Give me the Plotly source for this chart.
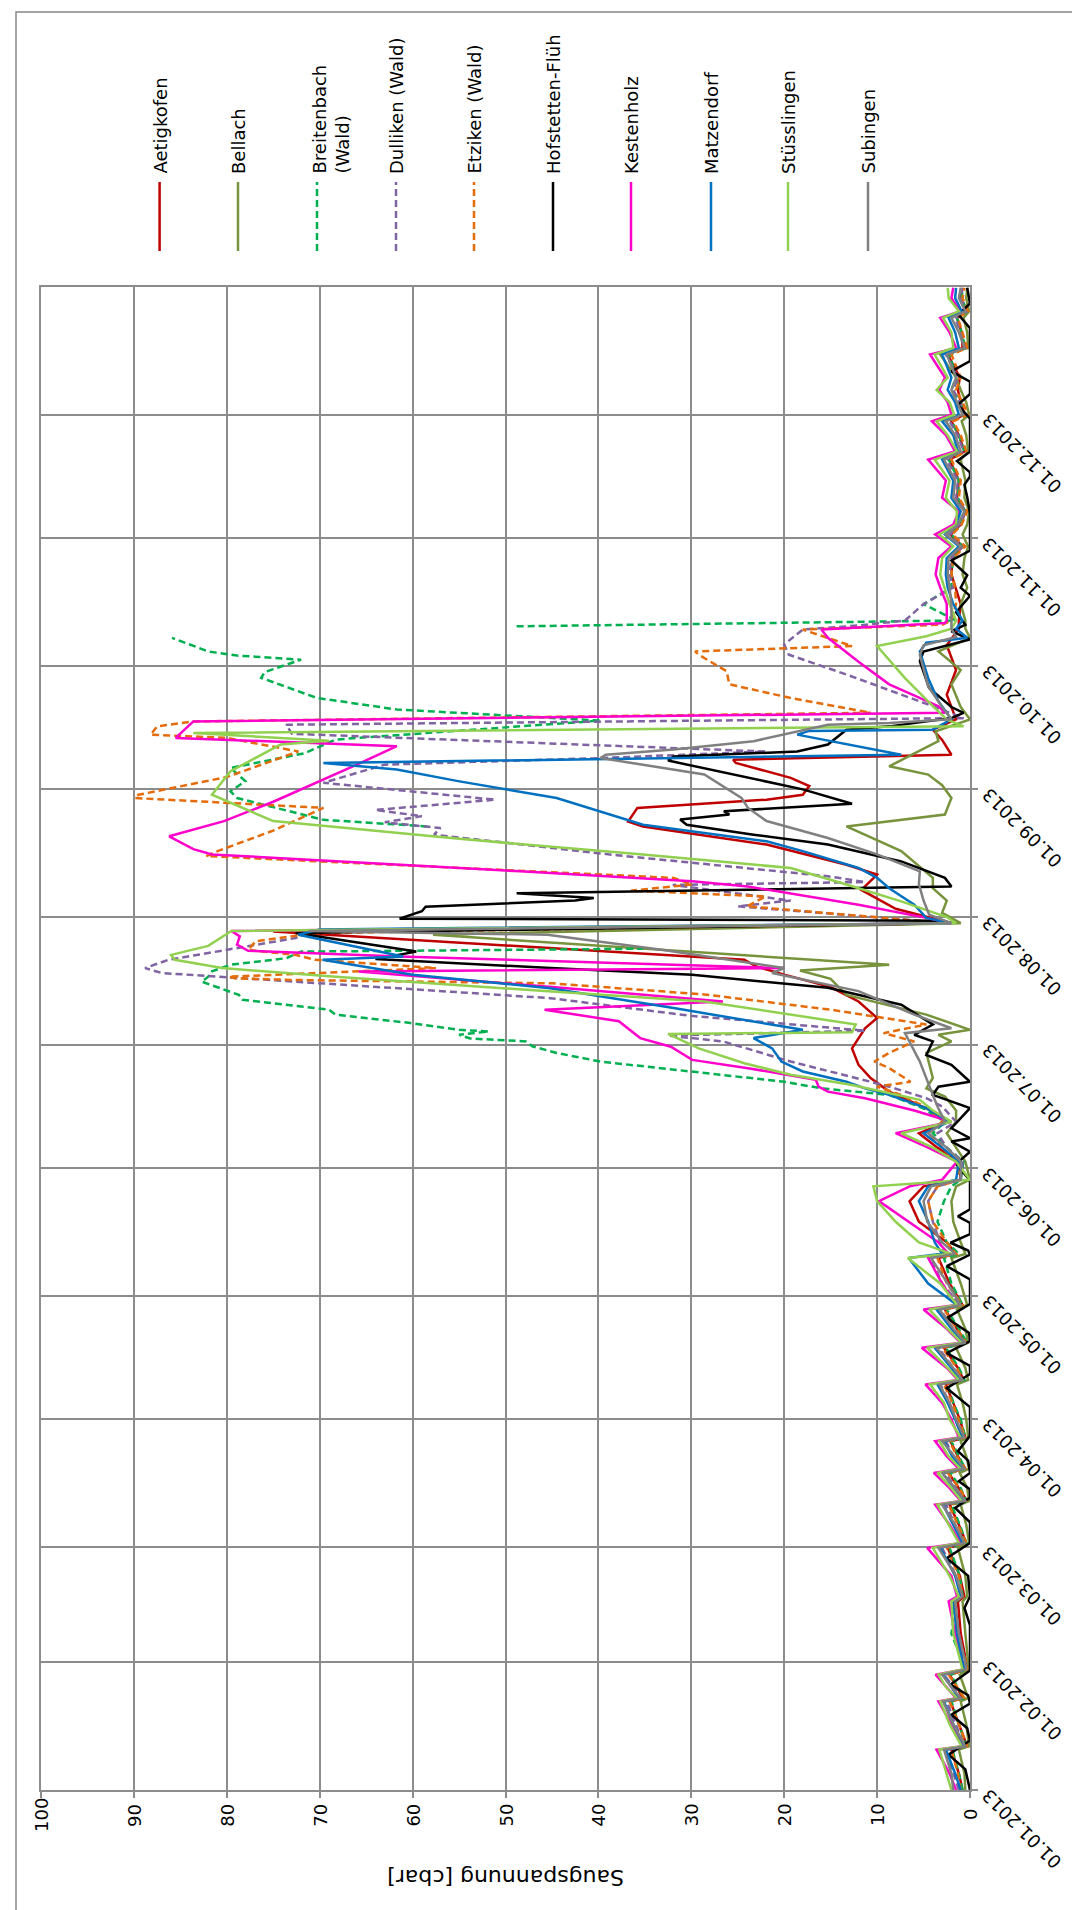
import pandas as pd
import plotly.graph_objects as go

# ---------------- Daten ----------------
wert_ticks = [0, 10, 20, 30, 40, 50, 60, 70, 80, 90, 100]
monats_ticks = ["2013-01-01", "2013-02-01", "2013-03-01", "2013-04-01", "2013-05-01", "2013-06-01",
                "2013-07-01", "2013-08-01", "2013-09-01", "2013-10-01", "2013-11-01", "2013-12-01"]
monats_labels = ["01.01.2013", "01.02.2013", "01.03.2013", "01.04.2013", "01.05.2013", "01.06.2013",
                 "01.07.2013", "01.08.2013", "01.09.2013", "01.10.2013", "01.11.2013", "01.12.2013"]

# Tag im Jahr (0 = 01.01.2013)
tage_jan_jun = [0, 4, 9.8, 10.6, 16, 21.5, 22.3, 25, 28, 29.3, 31, 38, 45.8, 47, 52, 58.8, 60, 64.4,
                69.3, 70.2, 73.3, 77, 78, 81, 84.7, 85.6, 90, 94, 98.5, 99.6, 102.5, 107.4, 108.6, 112,
                116.7, 117.8, 123, 129.2, 130.2, 133, 138, 143, 146.6, 148.2, 152.6, 156, 159.5, 162.3]
tage_okt_dez = [284, 288, 292, 295.2, 299.2, 302, 304.9, 307.3, 310.5, 313.8, 318, 323.1, 325.1, 329,
                332.4, 334, 337, 340, 343, 348.6, 350.2, 354, 357.5, 359.1, 362.3, 364.8]

# Aetigkofen
aetigkofen_jan_jun = [0.8, 1.2, 2.0, 0.3, 1.2, 2.1, 0.8, 1.4, 2.2, 0.3, 0.4, 1.0, 1.3, 0.6, 1.1, 2.4, 0.4, 1.2,
                      2.2, 0.3, 1.2, 2.3, 0.5, 1.3, 2.1, 0.5, 1.1, 1.8, 2.6, 0.7, 1.3, 2.8, 0.4, 1.4, 2.7, 0.8,
                      2.2, 3.4, 1.5, 2.5, 5.5, 6.5, 5.0, 1.0, 1.2, 3.5, 5.5, 2.5]
aetigkofen_sommer_tag = [164.8, 169.6, 172.9, 176.1, 180.1, 185, 187.5, 191.5, 195, 198, 200, 201.6, 204.4,
                         208.5, 210.5, 214, 218.6, 222.3, 224.7, 229.6, 234, 235.2, 238.5, 240.5, 241.7,
                         243.8, 245.8, 249.4, 250.2, 250.6, 251.4, 255, 257.5, 260, 266, 272, 278, 282]
aetigkofen_sommer_wert = [4, 8.7, 10.7, 12, 12.7, 11.3, 10, 12, 15, 20, 23, 24.3, 45.2, 75, 2, 8, 11.7, 10,
                          13.3, 21.9, 35.2, 36.8, 35.8, 21.9, 18, 17.3, 19.3, 25.2, 25.5, 18.6, 2, 3, 4, 1.5,
                          2.5, 1.5, 2.5, 1.2]
aetigkofen_okt_dez = [1.2, 1.0, 1.6, 2.0, 1.9, 0.8, 2.1, 1.0, 0.5, 1.4, 1.2, 2.2, 0.6, 1.2, 2.0, 0.6, 1.0, 1.3,
                      1.1, 2.4, 0.8, 0.9, 1.4, 0.4, 1.0, 0.9]

# Bellach
bellach_jan_jun = [0.5, 0.6, 1.2, 0.1, 0.4, 1.0, 0.2, 0.6, 1.1, 0.1, 0.2, 0.5, 0.8, 0.3, 0.5, 1.3, 0.1, 0.4,
                   1.0, 0.1, 0.3, 1.1, 0.1, 0.4, 1.0, 0.2, 0.4, 0.8, 1.4, 0.2, 0.5, 1.5, 0.2, 0.5, 1.4, 0.3,
                   1.0, 2.0, 0.5, 1.0, 1.8, 2.0, 1.5, 0.0, 0.5, 1.5, 2.5, 1.5]
bellach_sommer_tag = [165, 168.4, 170.4, 172.9, 179, 181.8, 183.4, 184.6, 188.3, 193.1, 197, 199, 200.4, 207.7,
                      210.5, 213, 216, 219, 221.5, 228, 234, 236.9, 240.9, 244, 246.6, 248.6, 254.7, 257.1,
                      260, 263, 268.5, 272, 276.5, 279.8, 282]
bellach_sommer_wert = [1.5, 2.7, 4.7, 4, 4.7, 2, 3.4, 0, 4.7, 13.3, 15, 18.3, 8.7, 57.8, 1, 3, 2.5, 4, 4, 7.4,
                       13.3, 2.7, 2, 3, 4.5, 8.7, 3.4, 3.7, 0, 1, 2, 1, 3.4, 0, 0.5]
bellach_okt_dez = [0.5, 1.0, 0.3, 0.8, 0.6, 0.2, 0.8, 0.3, 0.1, 0.6, 0.5, 1.0, 0.2, 0.4, 0.9, 0.1, 0.4, 1.0,
                   1.5, 3.2, 0.2, 0.3, 0.7, 0.1, 0.4, 0.3]

# Breitenbach (Wald)
breitenbach_jan_jun = [0.8, 1.2, 1.9, 0.4, 1.2, 2.0, 0.6, 1.3, 2.1, 0.3, 0.8, 2.0, 1.5, 0.8, 1.1, 2.2, 0.4, 1.1,
                       2.0, 0.4, 1.0, 2.1, 0.5, 1.2, 2.0, 0.5, 1.0, 1.8, 2.4, 0.6, 1.2, 2.6, 0.3, 1.2, 2.5, 0.8,
                       2.0, 2.8, 1.2, 2.5, 3.5, 2.8, 2.0, 1.0, 0.7, 2.5, 4.0, 2.7]
breitenbach_sommer_tag = [165.5, 168.8, 170.4, 172, 174.1, 175.7, 176.9, 179, 180.6, 181.8, 182.5, 183.4, 184.2,
                          184.6, 186.3, 188.3, 189.5, 191.9, 193.1, 196.3, 197.5, 198.8, 200.4, 202, 203.6,
                          204.3, 219, 234, 235.6, 240.9, 242.5, 245, 248.2, 251.8, 255.1, 259.7, 262.4, 265.2,
                          270.1, 271.5, 274.5, 275.5, 276.5, 279.8, 281, 282.6]
breitenbach_sommer_wert = [5, 8.7, 16, 20, 28.6, 35.2, 39.8, 44.5, 47.1, 47.8, 53.8, 55, 51.8, 55, 60.4, 68.3,
                           69, 78.3, 78.7, 82.7, 82, 81.6, 79.6, 73.6, 72, 35.2, None, 58.4, 69.6, 78.9, 79.6,
                           78, 79.6, 71.6, 68.3, 39.8, 61.7, 70.3, 76.3, 75.9, 72, 78.9, 82, 85.9, None, 48.8]
breitenbach_okt_dez = [1.5, 5.0, 2.0, 2.0, 1.8, 0.8, 2.0, 1.0, 0.5, 1.3, 1.2, 2.3, 0.6, 1.2, 2.0, 0.6, 1.0, 2.0,
                       1.5, 2.2, 0.5, 0.9, 1.4, 0.3, 0.9, 0.8]

# Dulliken (Wald)
dulliken_jan_jun = [1.2, 1.8, 2.6, 0.6, 1.5, 2.5, 1.0, 1.8, 2.8, 0.5, 0.6, 1.2, 1.7, 1.0, 1.5, 3.0, 0.8, 1.6,
                    2.6, 0.7, 1.5, 2.7, 0.8, 1.8, 2.6, 0.8, 1.6, 2.2, 3.2, 0.9, 1.8, 3.4, 0.7, 1.8, 3.2, 1.1,
                    3.0, 4.2, 2.8, 3.2, 4.0, 4.5, 3.5, 1.0, 0.8, 2.5, 3.5, 1.5]
dulliken_sommer_tag = [166, 168, 170.8, 172, 176.9, 181.8, 183.2, 184.4, 188, 192.3, 196, 198.4, 199.6, 201.6,
                       206.9, 208.5, 210.5, 214.6, 216, 219.8, 220.5, 221.9, 227, 232, 233.6, 235, 236.5, 238,
                       240.5, 244.6, 249, 250.6, 252.2, 256.5, 258.7, 260.3, 263.2, 266, 270.9, 275.7, 278.2,
                       281.8, 282.8]
dulliken_sommer_wert = [3, 4.7, 8.7, 10.7, 19.3, 26.6, 32.5, 11.3, 30, 45.2, 70, 87, 88.8, 86.3, 72.6, 70.8, 2,
                        25, 19.3, 32, 11.3, 15.3, 38, 57.7, 57, 63, 59, 64, 51.1, 69.6, 63, 39.8, 22, 73, 73.6,
                        0.7, 4, 7.4, 13.3, 19.5, 20, 18, 12]
dulliken_okt_dez = [7.0, 5.0, 1.8, 2.2, 2.0, 0.8, 2.2, 1.1, 0.5, 1.5, 1.3, 2.5, 0.7, 1.3, 2.2, 0.6, 1.1, 1.8,
                    1.3, 2.6, 0.5, 1.0, 1.6, 0.3, 1.0, 0.8]

# Etziken (Wald)
etziken_jan_jun = [1.0, 1.3, 2.0, 0.3, 1.2, 2.2, 0.6, 1.4, 2.3, 0.3, 0.4, 1.5, 1.6, 0.8, 1.2, 2.5, 0.4, 1.3,
                   2.3, 0.4, 1.1, 2.4, 0.5, 1.4, 2.2, 0.5, 1.2, 1.9, 2.8, 0.8, 1.4, 3.0, 0.4, 1.4, 2.8, 0.8,
                   2.5, 3.5, 1.5, 2.5, 4.0, 4.5, 3.5, 1.0, 1.5, 3.0, 4.5, 3.0]
etziken_sommer_tag = [165.5, 168.8, 170.8, 172, 175.3, 176.9, 179, 181.8, 183.8, 185.9, 189.5, 193.2, 195.9,
                      196.7, 197.1, 197.5, 199.6, 201.6, 202.8, 204, 206.1, 208.1, 210.5, 214.6, 217, 218.4,
                      219.9, 221.5, 226.8, 228, 233, 238.5, 240.9, 241.7, 246, 252.2, 255.5, 256.3, 258.3,
                      259.5, 261.6, 265.2, 268.5, 271.7, 275.7, 276.5, 277.8, 281.8, 283]
etziken_sommer_wert = [4.5, 7.4, 10, 6.4, 8.7, 10.3, 8.7, 6, 9.3, 4.7, 15, 28.6, 45, 72.6, 79, 79.8, 57.5, 70.5,
                       72.6, 77.7, 76.9, 70.5, 2.5, 24, 22, 36.5, 29.9, 31.9, 82.2, 81, 75, 69.6, 89.9, 89.5,
                       80, 72.3, 80, 88.2, 87.5, 83.6, 10.7, 19.3, 25.9, 26.2, 29.2, 29.6, 12.7, 18, 3]
etziken_okt_dez = [2.0, 1.5, 1.6, 2.0, 1.8, 0.5, 1.9, 0.9, 0.3, 1.2, 1.0, 2.0, 0.4, 1.0, 1.8, 0.2, 0.8, 1.5,
                   1.0, 2.0, 0.3, 0.8, 1.3, 0.2, 0.8, 0.6]

# Hofstetten-Flüh (eigene Stützstellen)
hofstetten_jan_jun_tag = [0, 5, 8.6, 12, 15, 18.3, 21, 23, 25.6, 29, 40, 44.2, 47, 52, 56.3, 60, 65, 68.5, 71,
                          73, 75, 77, 80, 82.3, 86, 93, 97.6, 101, 103, 106.1, 109, 111, 114.6, 118, 124,
                          127.2, 130, 131, 132.9, 135, 137.7, 139.3, 141, 148, 152, 155, 157.5, 158.3, 160.7]
hofstetten_jan_jun = [0, 0.5, 2.3, 0, 0.3, 2.0, 0, 0.2, 2.1, 0, 0, 0.6, 0, 0.2, 2.5, 0, 0, 1.6, 0, 0, 1.2, 0,
                      0.2, 1.3, 0, 0, 2.5, 0, 0, 2.5, 0, 0.1, 2.5, 0, 0, 2.5, 0, 0.2, 2.1, 0, 0, 1.3, 0, 0,
                      1.5, 0, 2.0, 0, 2.0]
hofstetten_sommer_tag = [165.6, 168.8, 170.8, 172, 176.1, 178.5, 181.8, 183.4, 185.9, 190.7, 194.8, 198, 199.6,
                         201.8, 203.6, 208.1, 210.5, 211.1, 211.6, 213.4, 214.5, 216, 216.6, 217.8, 219.4,
                         221.5, 225.5, 229.6, 232, 234.4, 235.7, 236.9, 237.7, 239.5, 243, 250, 251, 252.2,
                         253.9, 257.5, 258.3, 260.3, 261.6, 263, 267.6, 274.1, 276.5, 279.4, 281.4]
hofstetten_sommer_wert = [0, 4, 3.4, 0, 2, 4.7, 4, 6, 4, 7.4, 15.3, 29.9, 45.1, 64, 59.6, 72.6, 2, 3, 61.4, 59,
                          58.6, 42.5, 40.5, 48.8, 2, 2.7, 7.4, 15.3, 23.3, 30.5, 31.2, 25.9, 26.5, 12.7, 18,
                          32.5, 31.9, 18.6, 15.3, 13.3, 8.7, 2, 0.7, 2, 4.4, 5.4, 5, 0, 2]
hofstetten_okt_dez_tag = [283, 286, 290, 292, 295, 298.6, 301, 310, 314, 317, 319, 320, 322.7, 325, 333, 336.4,
                          339, 342, 344.5, 347, 355, 358.3, 361, 364.8]
hofstetten_okt_dez = [0.5, 1.5, 0, 1.0, 0.3, 2.0, 0, 0, 0.3, 0.6, 0, 0, 1.4, 0, 0, 1.3, 0, 0, 2.0, 0, 0, 1.25,
                      0, 0.3]

# Kestenholz
kestenholz_jan_jun = [1.5, 2.2, 3.6, 0.8, 2.0, 3.4, 1.5, 2.5, 3.7, 0.6, 0.8, 1.6, 2.3, 1.4, 2.0, 4.6, 1.0, 2.2,
                      3.75, 1.0, 2.2, 3.9, 1.2, 2.5, 3.75, 1.2, 2.0, 3.0, 4.8, 1.3, 2.5, 5.2, 1.0, 2.5, 5.0,
                      1.5, 3.0, 4.5, 2.3, 3.4, 6.6, 9.8, 6.5, 3.0, 1.4, 4.5, 8.0, 2.0]
kestenholz_sommer_tag = [165, 168, 169.6, 170.8, 172.5, 175.3, 177.3, 180.5, 182.6, 185, 186.7, 189.5, 191.5,
                         195, 198.8, 199.6, 202.4, 203.8, 205.3, 207.3, 208.6, 210.5, 211.8, 215, 219.4, 220.7,
                         223.1, 227.2, 228.5, 231.6, 235.3, 240, 245.4, 249, 253.5, 255.5, 259.5, 261.6, 263.2,
                         268.5, 274, 279.8, 281.8, 283.4]
kestenholz_sommer_wert = [6, 11.3, 15.3, 16.3, 16.6, 23.9, 29.9, 32.2, 35.5, 36.8, 37.8, 45.8, 26.6, 45, 65.8,
                          20, 61.4, 77.7, 78.9, 78.6, 79.5, 2, 4.7, 12, 23.9, 29.9, 48.4, 81.6, 83.6, 86.2,
                          80.3, 75, 69.6, 66, 61.7, 85.5, 83.6, 2.7, 3.4, 8.7, 12, 15.3, 16, 2.7]
kestenholz_okt_dez = [2.5, 2.5, 3.2, 3.7, 3.4, 2.0, 3.75, 1.8, 1.2, 3.0, 2.6, 4.5, 1.6, 2.6, 4.1, 2.0, 2.4, 3.3,
                      2.7, 4.3, 1.5, 2.2, 3.2, 1.0, 2.0, 1.8]

# Matzendorf
matzendorf_jan_jun = [1.0, 1.6, 2.6, 0.6, 1.8, 2.8, 1.2, 2.0, 2.9, 0.6, 0.8, 1.4, 1.8, 1.0, 1.6, 3.2, 0.8, 1.8,
                      2.9, 0.6, 1.7, 3.0, 0.8, 1.9, 2.8, 0.8, 1.6, 2.4, 3.5, 1.0, 2.0, 3.8, 0.6, 2.0, 3.6, 1.4,
                      4.5, 6.6, 3.0, 3.8, 4.5, 5.5, 4.5, 1.5, 1.2, 3.0, 5.0, 2.2]
matzendorf_sommer_tag = [165.6, 168.8, 170.4, 172, 174.5, 176.9, 180.1, 182.6, 184.6, 189.9, 194.7, 198, 201.6,
                         202.4, 207.7, 209, 210.5, 211.8, 215, 219, 221.5, 223.9, 228, 230.4, 234.4, 240.9,
                         245, 247.8, 249.4, 251.4, 256.3, 257.2, 257.5, 260, 264.4, 270, 276.5, 278.6, 279.8,
                         282]
matzendorf_sommer_wert = [4.7, 8.7, 11.3, 13.3, 18, 20.3, 21.3, 23.3, 18, 31.9, 45.2, 60, 69.7, 61, 72.3, 70, 2,
                          4.7, 6, 8.7, 10, 12, 18, 21.9, 35.2, 44.5, 55.1, 61.7, 69.6, 7.4, 18.6, 17.3, 4, 2,
                          3.4, 4.5, 5.4, 4.7, 0.3, 1.5]
matzendorf_okt_dez = [0.8, 1.8, 2.4, 2.6, 2.5, 1.2, 2.7, 1.5, 1.0, 2.0, 1.8, 3.0, 1.3, 1.8, 3.0, 1.2, 1.6, 2.4,
                      2.0, 3.0, 1.2, 1.6, 2.3, 0.9, 1.6, 1.5]

# Stüsslingen
stuesslingen_jan_jun = [2.0, 2.5, 3.3, 0.9, 2.2, 3.2, 1.4, 2.6, 3.4, 0.8, 1.0, 1.8, 2.0, 1.2, 2.2, 4.0, 1.2, 2.3,
                        3.5, 0.9, 2.0, 3.5, 1.0, 2.3, 3.3, 1.0, 2.2, 2.8, 4.3, 1.2, 2.4, 4.6, 0.9, 2.4, 4.4,
                        1.4, 3.2, 6.7, 2.0, 5.5, 8.0, 10.0, 10.4, 0.0, 1.5, 4.0, 7.4, 2.0]
stuesslingen_sommer_tag = [165, 167.6, 171.2, 173.7, 176.5, 180.1, 183.6, 184.0, 185.9, 191.5, 193.9, 197.2,
                           197.6, 199.6, 201.6, 202.8, 205, 208.6, 210.5, 212, 215.8, 219.9, 223.9, 227.2, 231,
                           235.3, 241.7, 247.4, 253.9, 254.8, 256.7, 258.3, 260, 263.2, 270, 277.8, 280.2, 282]
stuesslingen_sommer_wert = [4.0, 5.4, 12.7, 19.3, 24.3, 29.2, 32.5, 12.7, 12.3, 28.6, 45, 66.3, 69, 80.5, 85.6,
                            86, 82, 79.5, 1.5, 2.5, 7.4, 13.3, 19.3, 35.2, 55, 75, 81.6, 79.6, 74.2, 69, 83.6,
                            0.7, 2.5, 4, 7, 10, 4.7, 2]
stuesslingen_okt_dez = [1.5, 2.2, 2.8, 3.2, 3.0, 1.8, 3.3, 1.5, 1.4, 2.6, 2.2, 3.8, 1.4, 2.4, 3.6, 1.7, 2.2, 3.6,
                        2.4, 3.8, 1.8, 2.0, 2.9, 1.2, 2.3, 2.4]

# Subingen
subingen_jan_jun = [1.8, 2.0, 2.8, 0.5, 1.8, 2.9, 1.0, 2.0, 3.0, 0.4, 0.5, 1.2, 1.6, 0.8, 1.5, 3.4, 0.6, 1.6,
                    3.0, 0.5, 1.6, 3.0, 0.6, 1.7, 3.0, 0.6, 1.5, 2.2, 3.3, 0.8, 1.8, 3.6, 0.5, 1.8, 3.3, 1.0,
                    2.4, 4.2, 1.6, 3.0, 4.6, 5.0, 4.2, 1.0, 1.0, 2.5, 4.5, 2.7]
subingen_sommer_tag = [166, 168.8, 176.9, 183.8, 185, 188.3, 194, 198.4, 199.6, 204, 207.7, 208.6, 210.5, 212.6,
                       216, 220, 223.1, 227.2, 231.2, 235.3, 238.5, 240.9, 246.6, 249, 250.6, 251.4, 252.7,
                       254.7, 257.1, 258.7, 259.1, 260, 263, 268, 275.7, 278, 280, 282]
subingen_sommer_wert = [3.5, 4, 5.4, 7, 2, 6, 12, 21.3, 20, 33, 45.5, 71.2, 2, 4.4, 5, 5.5, 5.4, 10, 15.3, 21.9,
                        23.9, 24.6, 28.6, 35.2, 39.8, 39.2, 31.9, 23.3, 18.6, 15.3, 8.7, 2, 3, 4.5, 5.4, 5, 1.5,
                        2]
subingen_okt_dez = [2.0, 2.0, 2.2, 2.4, 2.3, 1.0, 2.6, 1.3, 0.6, 1.8, 1.6, 2.8, 1.0, 1.6, 2.6, 0.8, 1.4, 2.0,
                    1.5, 2.5, 0.6, 1.2, 2.0, 0.5, 1.2, 1.0]

namen = ["Aetigkofen", "Bellach", "Breitenbach<br>(Wald)", "Dulliken (Wald)", "Etziken (Wald)",
         "Hofstetten-Flüh", "Kestenholz", "Matzendorf", "Stüsslingen", "Subingen"]
farben = ["#C00000", "#77933C", "#00B050", "#8064A2", "#E46C0A",
          "#000000", "#FF00CC", "#0070C0", "#92D050", "#808080"]
gestrichelt = [False, False, True, True, True, False, False, False, False, False]

# ---------------- Aufbau ----------------
reihen = [
    (tage_jan_jun + aetigkofen_sommer_tag + tage_okt_dez,
     aetigkofen_jan_jun + aetigkofen_sommer_wert + aetigkofen_okt_dez),
    (tage_jan_jun + bellach_sommer_tag + tage_okt_dez,
     bellach_jan_jun + bellach_sommer_wert + bellach_okt_dez),
    (tage_jan_jun + breitenbach_sommer_tag + tage_okt_dez,
     breitenbach_jan_jun + breitenbach_sommer_wert + breitenbach_okt_dez),
    (tage_jan_jun + dulliken_sommer_tag + tage_okt_dez,
     dulliken_jan_jun + dulliken_sommer_wert + dulliken_okt_dez),
    (tage_jan_jun + etziken_sommer_tag + tage_okt_dez,
     etziken_jan_jun + etziken_sommer_wert + etziken_okt_dez),
    (hofstetten_jan_jun_tag + hofstetten_sommer_tag + hofstetten_okt_dez_tag,
     hofstetten_jan_jun + hofstetten_sommer_wert + hofstetten_okt_dez),
    (tage_jan_jun + kestenholz_sommer_tag + tage_okt_dez,
     kestenholz_jan_jun + kestenholz_sommer_wert + kestenholz_okt_dez),
    (tage_jan_jun + matzendorf_sommer_tag + tage_okt_dez,
     matzendorf_jan_jun + matzendorf_sommer_wert + matzendorf_okt_dez),
    (tage_jan_jun + stuesslingen_sommer_tag + tage_okt_dez,
     stuesslingen_jan_jun + stuesslingen_sommer_wert + stuesslingen_okt_dez),
    (tage_jan_jun + subingen_sommer_tag + tage_okt_dez,
     subingen_jan_jun + subingen_sommer_wert + subingen_okt_dez),
]

start = pd.Timestamp("2013-01-01")
FONT = "DejaVu Sans"

# Pixel-Geometrie des Plotbereichs
L, R, T, B = 33, 962, 279, 1782
W, H = 1080, 1910


def px_x(p):
    return (p - L) / (R - L)


def px_y(p):
    return (B - p) / (B - T)


STRICH = "7px,4px"
fig = go.Figure()
for i, (tage, werte) in enumerate(reihen):
    n = min(len(tage), len(werte))
    datum = [start + pd.to_timedelta(t, unit="D") for t in tage[:n]]
    fig.add_trace(go.Scatter(
        x=werte[:n], y=datum, mode="lines", name=namen[i].replace("<br>", " "),
        line=dict(color=farben[i], width=2.5, dash=STRICH if gestrichelt[i] else "solid"),
        showlegend=False, hoverinfo="skip"))

grau = "#8C8C8C"
fig.update_layout(
    width=W, height=H,
    margin=dict(l=L, r=W - R, t=T, b=H - B, autoexpand=False),
    paper_bgcolor="white", plot_bgcolor="white",
    font=dict(family=FONT, size=18, color="black"),
    xaxis=dict(range=[100, 0], tickvals=wert_ticks, showticklabels=False,
               showgrid=True, gridcolor=grau, gridwidth=2,
               showline=True, linecolor=grau, linewidth=2, mirror=True,
               ticks="outside", ticklen=6, tickcolor=grau, tickwidth=2, zeroline=False),
    yaxis=dict(type="date", range=["2013-01-01", "2014-01-01"], side="right",
               tickvals=monats_ticks, showticklabels=False,
               showgrid=True, gridcolor=grau, gridwidth=2,
               showline=True, linecolor=grau, linewidth=2, mirror=True,
               ticks="outside", ticklen=6, tickcolor=grau, tickwidth=2),
)

# Wert-Beschriftungen (um -90° gedreht, mittig unter den Ticks)
for v in wert_ticks:
    fig.add_annotation(x=v, xref="x", y=px_y(1807), yref="paper", text=str(v), textangle=-90,
                       showarrow=False, font=dict(family=FONT, size=18, color="black"),
                       xanchor="center", yanchor="middle")

# Datums-Beschriftungen (um -135° gedreht, rechts der Achse)
for d, lab in zip(monats_ticks, monats_labels):
    fig.add_annotation(x=px_x(967), xref="paper", y=d, yref="y", text=lab, textangle=-135,
                       showarrow=False, font=dict(family=FONT, size=18, color="black"),
                       xanchor="left", yanchor="top", yshift=8)

# Achsentitel (um 180° gedreht)
fig.add_annotation(x=50, xref="x", y=px_y(1870), yref="paper", text="Saugspannung [cbar]",
                   textangle=180, showarrow=False, font=dict(family=FONT, size=22, color="black"),
                   xanchor="center", yanchor="middle")

# Legende (gedreht, oben)
leg_x = [151.6, 230, 309, 388, 466, 545, 623, 703, 780, 860]
for i, name in enumerate(namen):
    fig.add_shape(type="line", xref="paper", yref="paper",
                  x0=px_x(leg_x[i]), x1=px_x(leg_x[i]), y0=px_y(243), y1=px_y(174),
                  line=dict(color=farben[i], width=2.5, dash=STRICH if gestrichelt[i] else "solid"))
    cx = leg_x[i] + (13 if "<br>" in name else 0)
    fig.add_annotation(x=px_x(cx), xref="paper", y=px_y(168), yref="paper", text=name,
                       textangle=-90, showarrow=False, align="left",
                       font=dict(family=FONT, size=18, color="black"),
                       xanchor="center", yanchor="bottom")

# Rahmen um das Diagramm
fig.add_shape(type="rect", xref="paper", yref="paper",
              x0=px_x(8), x1=px_x(1075), y0=px_y(1905), y1=px_y(4),
              line=dict(color="#868686", width=1.5), fillcolor="rgba(0,0,0,0)", layer="below")

fig.write_html("out.html")
